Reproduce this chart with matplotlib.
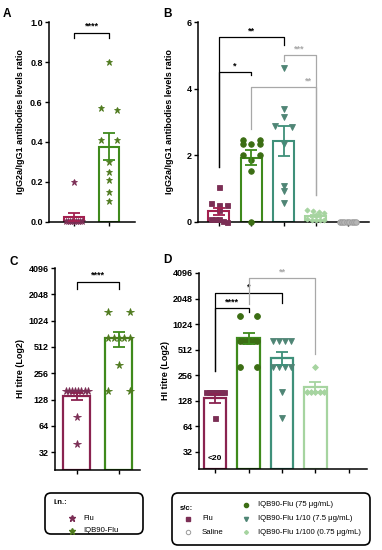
import numpy as np
import matplotlib
matplotlib.use('Agg')
import matplotlib.pyplot as plt
from matplotlib.patches import FancyBboxPatch
from matplotlib.ticker import FixedLocator, NullLocator

plt.rcParams['font.family'] = ['Liberation Sans', 'DejaVu Sans']
plt.rcParams['font.weight'] = 'bold'

# ---------------- data ----------------
a_groups = ['Flu', 'IQB90-Flu']
a_flu = [0.2, 0.005, 0.005, 0.005, 0.005, 0.005, 0.005, 0.005, 0.005, 0.005]
a_iqb = [0.8, 0.57, 0.56, 0.41, 0.41, 0.3, 0.25, 0.21, 0.15, 0.105]

b_groups = ['Flu', 'IQB90-Flu 75', 'IQB90-Flu 1/10', 'IQB90-Flu 1/100', 'Saline']
b_flu = [1.05, 0.58, 0.5, 0.5, 0.35, 0.08, 0.08, 0.08, 0.02, 0.0]
b_75 = [2.47, 2.47, 2.33, 2.33, 2.33, 2.0, 2.0, 1.85, 1.53, 0.0]
b_10 = [4.62, 3.4, 3.15, 2.89, 2.85, 2.35, 1.07, 0.93, 0.58]
b_100 = [0.36, 0.33, 0.3, 0.27, 0.2, 0.08, 0.07, 0.07, 0.06, 0.06]
b_sal = [0, 0, 0, 0, 0, 0, 0, 0]

c_flu = [160, 160, 160, 160, 160, 160, 160, 160, 80, 40]
c_iqb = [1280, 1280, 640, 640, 640, 640, 640, 320, 160, 160]

d_flu = [160, 160, 160, 160, 160, 160, 160, 160, 80, 10]
d_75 = [1280, 1280, 640, 640, 640, 640, 640, 640, 320, 320]
d_10 = [640, 640, 640, 640, 320, 320, 320, 320, 160, 80]
d_100 = [320, 160, 160, 160, 160, 160]
d_sal = [10, 10, 10, 10, 10, 10]

log_ticks = [32, 64, 128, 256, 512, 1024, 2048, 4096]

# ---------------- styles ----------------
C_FLU_BAR = '#a3204f'
C_FLU_MK = '#7b2e55'
C_FLU_BAR2 = '#8a2350'
C_75 = '#3f8a1c'
C_75_MK = '#3c6e14'
C_10 = '#3f907a'
C_10_MK = '#4f8575'
C_100 = '#a6d4a0'
C_SAL = '#9a9a9a'
C_STAR_IQB = '#4f7a1e'
GREY = '#a8a8a8'

W, H = 382, 550
fig = plt.figure(figsize=(W / 100, H / 100), dpi=100)


def px_axes(l, t, r, b):
    return fig.add_axes([l / W, 1 - b / H, (r - l) / W, (b - t) / H])


def style_axes(ax):
    for s in ['top', 'right']:
        ax.spines[s].set_visible(False)
    for s in ['left', 'bottom']:
        ax.spines[s].set_linewidth(1.1)
    ax.tick_params(axis='both', length=3, width=1.0, labelsize=6.5, pad=1.5)
    ax.set_xticklabels([])
    for lb in ax.get_yticklabels():
        lb.set_fontweight('bold')


def swarm(ax, x0, vals, bw, thr=3.5):
    pts = ax.transData.transform(np.column_stack([np.full(len(vals), x0), vals]))
    py = pts[:, 1]
    order = np.argsort(-py)
    p0 = ax.transData.transform((x0, 1))[0]
    p1 = ax.transData.transform((x0 + bw, 1))[0]
    wpx = 0.8 * (p1 - p0)
    offs = np.zeros(len(vals))
    clusters = []
    for i in order:
        if clusters and abs(py[clusters[-1][0]] - py[i]) < thr:
            clusters[-1].append(i)
        else:
            clusters.append([i])
    for cl in clusters:
        n = len(cl)
        if n > 1:
            pos = np.linspace(-wpx / 2, wpx / 2, n)
            for j, i in enumerate(cl):
                offs[i] = pos[j]
    return x0 + offs * bw / (p1 - p0)


def draw_group(ax, x, vals, bw, bar_c, mk_c, marker, ms, base=0, clip=True,
               mfc=None, lw=1.5, draw_bar=True, z=3):
    vals = np.asarray(vals, float)
    m = vals.mean()
    sem = vals.std(ddof=1) / np.sqrt(len(vals))
    if draw_bar:
        ax.bar(x, m - base, bottom=base, width=bw, facecolor='white',
               edgecolor=bar_c, linewidth=lw, zorder=2)
    xs = swarm(ax, x, vals, bw)
    ax.plot(xs, vals, linestyle='none', marker=marker, ms=ms, color=mk_c,
            mfc=mfc if mfc else mk_c, mec=mk_c, mew=0.6, clip_on=clip, zorder=z)
    if draw_bar and sem > 0:
        ax.errorbar(x, m, yerr=sem, fmt='none', ecolor=bar_c, elinewidth=1.3,
                    capsize=4.2, capthick=1.3, zorder=4)


def bracket(ax, x1, x2, ytop, y1, y2, text, color='black', tx=None, ty=None,
            fs=6.5):
    ax.plot([x1, x1, x2, x2], [y1, ytop, ytop, y2], color=color, lw=0.9,
            clip_on=False, zorder=5)
    ax.text((x1 + x2) / 2 if tx is None else tx, ty, text, ha='center',
            va='bottom', fontsize=fs, color=color, fontweight='bold')


YLAB1 = 'IgG2a/IgG1 antibodies levels ratio'
YLAB2 = 'HI titre (Log2)'

# ---------------- Panel A ----------------
axA = px_axes(49, 22, 135, 222)
axA.set_xlim(-0.71, 1.74)
axA.set_ylim(0, 1.0)
axA.set_yticks([0.0, 0.2, 0.4, 0.6, 0.8, 1.0])
axA.set_yticklabels(['0.0', '0.2', '0.4', '0.6', '0.8', '1.0'])
axA.set_xticks([0, 1])
style_axes(axA)
bwA = 0.57
draw_group(axA, 0, a_flu, bwA, C_FLU_BAR, C_FLU_MK, '*', 4.9, clip=False)
draw_group(axA, 1, a_iqb, bwA, C_75, C_STAR_IQB, '*', 4.9, clip=False)
bracket(axA, 0, 1, 0.947, 0.918, 0.918, '****', ty=0.955)
axA.set_ylabel(YLAB1, fontsize=6.5, fontweight='bold')
axA.yaxis.set_label_coords(-0.275, 0.5)

# ---------------- Panel B ----------------
axB = px_axes(198, 22, 369, 222)
axB.set_xlim(-0.65, 4.65)
axB.set_ylim(0, 6)
axB.set_yticks([0, 2, 4, 6])
axB.set_xticks(range(5))
style_axes(axB)
bwB = 0.65
draw_group(axB, 0, b_flu, bwB, C_FLU_BAR, C_FLU_MK, 's', 3.6, clip=False)
draw_group(axB, 1, b_75, bwB, C_75, C_75_MK, 'o', 4.0, clip=False)
draw_group(axB, 2, b_10, bwB, C_10, C_10_MK, 'v', 3.8, clip=False)
draw_group(axB, 3, b_100, bwB, C_100, C_100, 'D', 2.6, clip=False)
draw_group(axB, 4, b_sal, bwB, C_SAL, C_SAL, 'o', 4.0, clip=False, mfc='#b5b5b5')
bracket(axB, 0, 2, 5.55, 1.65, 5.3, '**', ty=5.6)
bracket(axB, 0, 1, 4.5, 1.65, 4.4, '*', ty=4.55)
bracket(axB, 2, 3, 5.0, 4.82, 0.8, '***', color=GREY, ty=5.05)
bracket(axB, 1, 3, 4.05, 2.8, 0.8, '**', color=GREY, tx=2.78, ty=4.1)
axB.set_ylabel(YLAB1, fontsize=6.5, fontweight='bold')
axB.yaxis.set_label_coords(-0.14, 0.5)

# ---------------- Panel C ----------------
axC = px_axes(55, 268, 140, 470)
axC.set_xlim(-0.52, 1.5)
axC.set_yscale('log', base=2)
axC.set_ylim(20, 4096)
axC.yaxis.set_major_locator(FixedLocator(log_ticks))
axC.yaxis.set_minor_locator(NullLocator())
axC.set_yticklabels([str(t) for t in log_ticks])
axC.set_xticks([0, 1])
style_axes(axC)
bwC = 0.64
draw_group(axC, 0, c_flu, bwC, C_FLU_BAR2, C_FLU_MK, '*', 5.3, base=20, lw=1.6)
draw_group(axC, 1, c_iqb, bwC, C_75, C_STAR_IQB, '*', 5.3, base=20, lw=1.6)
bracket(axC, 0, 1, 2850, 2350, 2350, '****', ty=3000)
axC.set_ylabel(YLAB2, fontsize=6.5, fontweight='bold')
axC.yaxis.set_label_coords(-0.355, 0.5)

# ---------------- Panel D ----------------
axD = px_axes(199, 273, 367, 469)
axD.set_xlim(-0.48, 4.54)
axD.set_yscale('log', base=2)
axD.set_ylim(20, 4096)
axD.yaxis.set_major_locator(FixedLocator(log_ticks))
axD.yaxis.set_minor_locator(NullLocator())
axD.set_yticklabels([str(t) for t in log_ticks])
axD.set_xticks(range(5))
style_axes(axD)
bwD = 0.66
draw_group(axD, 0, d_flu, bwD, C_FLU_BAR2, C_FLU_MK, 's', 3.6, base=20, lw=1.6)
draw_group(axD, 1, d_75, bwD, C_75, C_75_MK, 'o', 4.2, base=20, lw=1.6)
draw_group(axD, 2, d_10, bwD, C_10, C_10_MK, 'v', 4.0, base=20, lw=1.6)
draw_group(axD, 3, d_100, bwD, C_100, C_100, 'D', 3.0, base=20, lw=1.6)
draw_group(axD, 4, d_sal, bwD, C_SAL, C_SAL, 'o', 4.0, base=20, draw_bar=False)
bracket(axD, 0, 1, 1600, 286, 1405, '****', ty=1640)
bracket(axD, 0, 2, 2390, 286, 1820, '*', ty=2450)
bracket(axD, 1, 3, 3580, 1770, 449, '**', color=GREY, ty=3700)
axD.text(0, 24, '<20', ha='center', va='bottom', fontsize=6, fontweight='bold')
axD.set_ylabel(YLAB2, fontsize=6.5, fontweight='bold')
axD.yaxis.set_label_coords(-0.175, 0.5)

# ---------------- panel letters ----------------
for lx, ly, t in [(3, 14, 'A'), (163, 14, 'B'), (10, 262, 'C'), (163, 260, 'D')]:
    fig.text(lx / W, 1 - ly / H, t, fontsize=8.5, fontweight='bold', va='center')

# ---------------- legend boxes ----------------
axL = fig.add_axes([0, 0, 1, 1], zorder=-1)
axL.set_xlim(0, W)
axL.set_ylim(H, 0)
axL.axis('off')
for (bx, by, bwid, bh) in [(45, 493, 98, 41), (172, 493, 198, 52)]:
    axL.add_patch(FancyBboxPatch((bx, by), bwid, bh,
                                 boxstyle='round,pad=0,rounding_size=6',
                                 facecolor='white', edgecolor='black', lw=1.2))
fsL = 5.6
axL.text(53, 503, 'i.n.:', fontsize=fsL, fontweight='bold', va='center')
axL.plot([72], [518], marker='*', ms=4.5, color=C_FLU_MK, ls='none')
axL.text(83, 518, 'Flu', fontsize=fsL, fontweight='normal', va='center')
axL.plot([72], [531], marker='*', ms=4.5, color=C_STAR_IQB, ls='none')
axL.text(83, 531, 'IQB90-Flu', fontsize=fsL, fontweight='normal', va='center')

axL.text(180, 508, 's/c:', fontsize=fsL, fontweight='bold', va='center')
axL.plot([188], [519], marker='s', ms=2.8, color=C_FLU_MK, ls='none')
axL.text(202, 519, 'Flu', fontsize=fsL, fontweight='normal', va='center')
axL.plot([188], [532], marker='o', ms=3.2, mfc='white', mec=C_SAL, mew=0.7, ls='none')
axL.text(202, 532, 'Saline', fontsize=fsL, fontweight='normal', va='center')
axL.plot([246], [505], marker='o', ms=3.0, color=C_75_MK, ls='none')
axL.text(258, 505, 'IQB90-Flu (75 μg/mL)', fontsize=fsL, fontweight='normal', va='center')
axL.plot([246], [519], marker='v', ms=3.0, color=C_10_MK, ls='none')
axL.text(258, 519, 'IQB90-Flu 1/10 (7.5 μg/mL)', fontsize=fsL, fontweight='normal', va='center')
axL.plot([246], [532], marker='D', ms=2.0, color=C_100, ls='none')
axL.text(258, 532, 'IQB90-Flu 1/100 (0.75 μg/mL)', fontsize=fsL, fontweight='normal', va='center')

fig.savefig('out.png', dpi=100)
